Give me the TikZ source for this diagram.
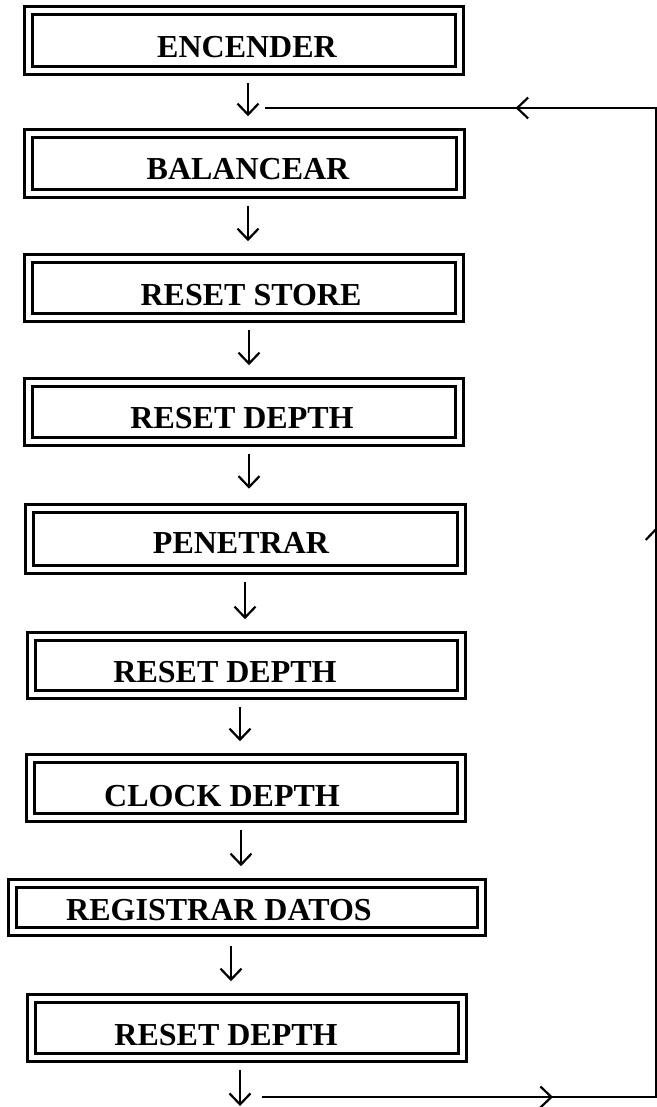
\documentclass[tikz,border=0pt]{standalone}
\usepackage{fontspec}
\setmainfont{Liberation Serif}
\usetikzlibrary{arrows.meta,decorations.markings}
\tikzset{
  box/.style={draw, double, line width=3pt, double distance=5.4pt, inner sep=0pt},
  lbl/.style={anchor=base, inner sep=0pt, font=\bfseries\fontsize{32}{38}\selectfont},
  tip/.tip={Straight Barb[length=11pt,width=21pt,line width=2.2pt]},
  arr/.style={line width=2.2pt, -{tip}, shorten <=11pt, shorten >=16pt},
}
\begin{document}
\begin{tikzpicture}[x=1pt,y=-1pt]
\useasboundingbox (0,0) rectangle (656,1107);
% boxes
\node[box, minimum width=430.6pt, minimum height=59.6pt] (b1) at (244,40.5) {};
\node[box, minimum width=431.6pt, minimum height=59.6pt] (b2) at (244.5,163.5) {};
\node[box, minimum width=430.6pt, minimum height=58.6pt] (b3) at (244,288) {};
\node[box, minimum width=430.6pt, minimum height=58.6pt] (b4) at (244,412) {};
\node[box, minimum width=431.6pt, minimum height=60.6pt] (b5) at (245.5,539) {};
\node[box, minimum width=429.6pt, minimum height=57.6pt] (b6) at (246.5,665.5) {};
\node[box, minimum width=430.6pt, minimum height=58.6pt] (b7) at (246,788) {};
\node[box, minimum width=468.6pt, minimum height=47.6pt] (b8) at (247,907.5) {};
\node[box, minimum width=430.6pt, minimum height=58.6pt] (b9) at (247,1028) {};
% labels
\node[lbl] (t1) at (247,58) {ENCENDER};
\node[lbl] (t2) at (248,180) {BALANCEAR};
\node[lbl] (t3) at (251,305) {RESET STORE};
\node[lbl] (t4) at (242,428) {RESET DEPTH};
\node[lbl] (t5) at (241,553) {PENETRAR};
\node[lbl] (t6) at (225,682) {RESET DEPTH};
\node[lbl] (t7) at (222,806) {CLOCK DEPTH};
\node[lbl] (t8) at (219,920) {REGISTRAR DATOS};
\node[lbl] (t9) at (226,1045) {RESET DEPTH};
% arrow columns
\coordinate (x1) at (248,0);
\coordinate (x2) at (248,0);
\coordinate (x3) at (249,0);
\coordinate (x4) at (249,0);
\coordinate (x5) at (245,0);
\coordinate (x6) at (240,0);
\coordinate (x7) at (241,0);
\coordinate (x8) at (231,0);
\coordinate (endA) at (240,1106);
\draw[arr] (b1.south -| x1) -- (b2.north -| x1);
\draw[arr] (b2.south -| x2) -- (b3.north -| x2);
\draw[arr] (b3.south -| x3) -- (b4.north -| x3);
\draw[arr, shorten >=18.5pt] (b4.south -| x4) -- (b5.north -| x4);
\draw[arr] (b5.south -| x5) -- (b6.north -| x5);
\draw[arr] (b6.south -| x6) -- (b7.north -| x6);
\draw[arr] (b7.south -| x7) -- (b8.north -| x7);
\draw[arr, shorten <=13pt] (b8.south -| x8) -- (b9.north -| x8);
\draw[arr, shorten >=0pt] (b9.south -| endA) -- (endA);
% return loop
\coordinate (lpS) at (262,1097);
\coordinate (lpBR) at (656.3,1097);
\coordinate (lpTR) at (656.3,108);
\coordinate (lpE) at (265,108);
\draw[line width=1.8pt, postaction={decorate},
  decoration={markings,
    mark=at position 291pt with {\arrow{tip}},
    mark=at position 964pt with {\arrow{tip}},
    mark=at position 1524pt with {\arrow{tip}}}]
  (lpS) -- (lpBR) -- (lpTR) -- (lpE);
\end{tikzpicture}
\end{document}
